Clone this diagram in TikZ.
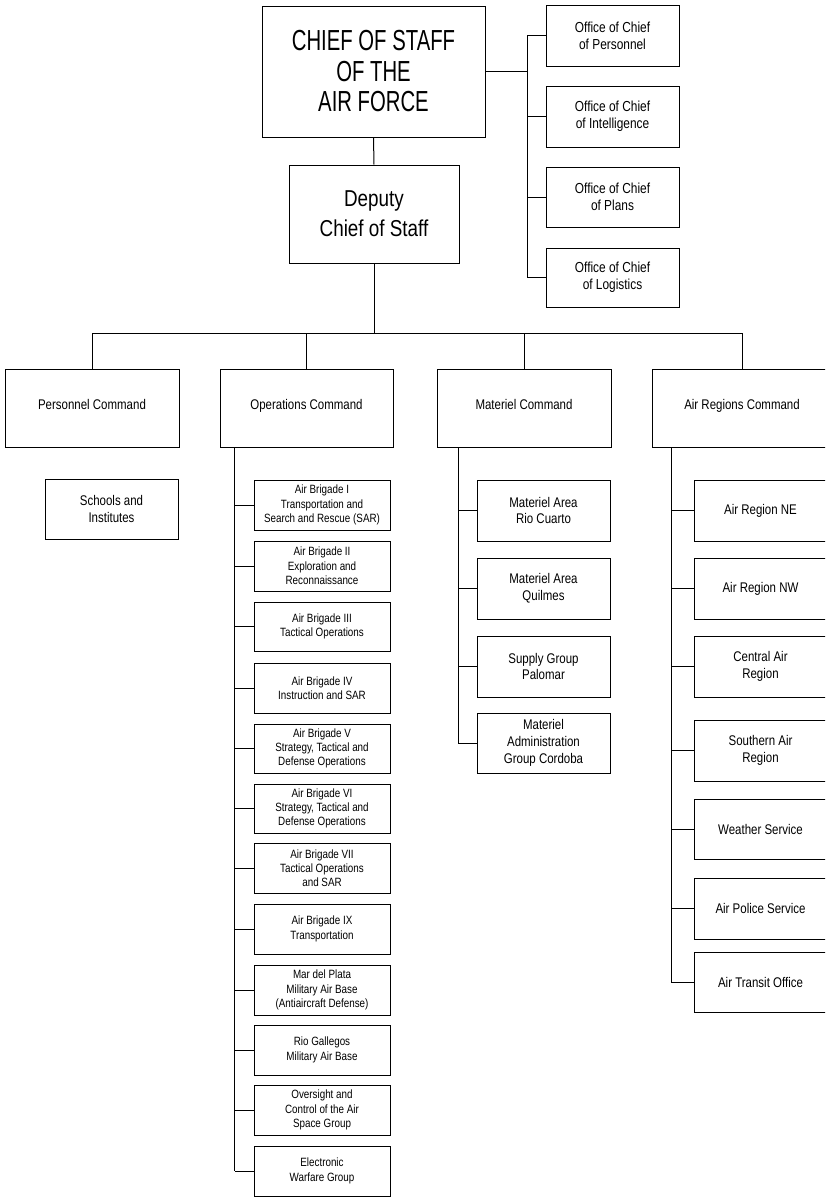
\documentclass[tikz,border=0pt]{standalone}
\usepackage{fontspec}
\setmainfont{Liberation Sans}[FakeStretch=0.82]
\newfontfamily\chieffont{Liberation Sans}[FakeStretch=0.7]
\newcommand\orgbox[7]{\node[#6, minimum width={(#4-#2)*1pt}, minimum height={(#5-#3)*1pt}] (#1) at ({(#2+#4)/2},{-(#3+#5)/2}) {#7};}
\tikzset{
  box/.style={draw, line width=1pt, inner sep=0pt, align=center, text=black},
  chiefbox/.style={box, font=\chieffont\fontsize{29}{30.5}\selectfont},
  depbox/.style={box, font=\fontsize{23}{30}\selectfont},
  offbox/.style={box, font=\fontsize{14.5}{17}\selectfont},
  cmdbox/.style={box, font=\fontsize{14}{17}\selectfont, text height=10pt, text depth=8pt},
  brigbox/.style={box, font=\fontsize{12}{14.3}\selectfont},
  subbox/.style={box, font=\fontsize{14}{16.7}\selectfont},
  conn/.style={line width=1pt}
}
\begin{document}
\begin{tikzpicture}[x=1pt, y=1pt, line width=1pt]
\useasboundingbox (0,0) rectangle (825,-1197);
\clip (0,0) rectangle (825,-1197);
% top
\orgbox{chief}{262}{6}{485}{137}{chiefbox}{CHIEF OF STAFF\\OF THE\\AIR FORCE}
\orgbox{deputy}{289}{165}{459}{263}{depbox}{Deputy\\Chief of Staff}
\orgbox{o1}{546}{5}{679}{66}{offbox}{Office of Chief\\of Personnel}
\orgbox{o2}{546}{86}{679}{147}{offbox}{Office of Chief\\of Intelligence}
\orgbox{o3}{546}{167}{679}{227}{offbox}{Office of Chief\\of Plans}
\orgbox{o4}{546}{248}{679}{307}{offbox}{Office of Chief\\of Logistics}
% commands
\orgbox{pers}{5}{369}{179}{447}{cmdbox}{Personnel Command}
\orgbox{ops}{220}{369}{393}{447}{cmdbox}{Operations Command}
\orgbox{mat}{437}{369}{611}{447}{cmdbox}{Materiel Command}
\orgbox{ar}{652}{369}{832}{447}{cmdbox}{Air Regions Command}
% personnel
\orgbox{schools}{45}{479}{178}{539}{subbox}{Schools and\\Institutes}
% operations
\orgbox{b1}{254}{480}{390}{530}{brigbox}{Air Brigade I\\Transportation and\\Search and Rescue (SAR)}
\orgbox{b2}{254}{541}{390}{591}{brigbox}{Air Brigade II\\Exploration and\\Reconnaissance}
\orgbox{b3}{254}{602}{390}{651}{brigbox}{Air Brigade III\\Tactical Operations}
\orgbox{b4}{254}{663}{390}{713}{brigbox}{Air Brigade IV\\Instruction and SAR}
\orgbox{b5}{254}{724}{390}{773}{brigbox}{Air Brigade V\\Strategy, Tactical and\\Defense Operations}
\orgbox{b6}{254}{784}{390}{833}{brigbox}{Air Brigade VI\\Strategy, Tactical and\\Defense Operations}
\orgbox{b7}{254}{843}{390}{893}{brigbox}{Air Brigade VII\\Tactical Operations\\and SAR}
\orgbox{b9}{254}{904}{390}{954}{brigbox}{Air Brigade IX\\Transportation}
\orgbox{mdp}{254}{965}{390}{1015}{brigbox}{Mar del Plata\\Military Air Base\\(Antiaircraft Defense)}
\orgbox{rg}{254}{1025}{390}{1075}{brigbox}{Rio Gallegos\\Military Air Base}
\orgbox{ov}{254}{1085}{390}{1135}{brigbox}{Oversight and\\Control of the Air\\Space Group}
\orgbox{ew}{254}{1146}{390}{1196}{brigbox}{Electronic\\Warfare Group}
% materiel
\orgbox{m1}{477}{480}{610}{541}{subbox}{Materiel Area\\Rio Cuarto}
\orgbox{m2}{477}{558}{610}{619}{subbox}{Materiel Area\\Quilmes}
\orgbox{m3}{477}{636}{610}{697}{subbox}{Supply Group\\Palomar}
\orgbox{m4}{477}{713}{610}{773}{subbox}{Materiel\\Administration\\Group Cordoba}
% air regions
\orgbox{r1}{694}{480}{827}{541}{subbox}{Air Region NE}
\orgbox{r2}{694}{558}{827}{619}{subbox}{Air Region NW}
\orgbox{r3}{694}{636}{827}{697}{subbox}{Central Air\\Region}
\orgbox{r4}{694}{720}{827}{781}{subbox}{Southern Air\\Region}
\orgbox{r5}{694}{799}{827}{859}{subbox}{Weather Service}
\orgbox{r6}{694}{878}{827}{939}{subbox}{Air Police Service}
\orgbox{r7}{694}{952}{827}{1012}{subbox}{Air Transit Office}
% connectors
\draw[conn] (chief.south) -- (deputy.north);
\coordinate (obus) at (527,0);
\draw[conn] (chief.east) -- (chief.east -| obus);
\draw[conn] (o1.west -| obus) -- (o4.west -| obus);
\foreach \n in {o1,o2,o3,o4} \draw[conn] (\n.west) -- (\n.west -| obus);
\coordinate (cbus) at (0,-333);
\draw[conn] (deputy.south) -- (deputy.south |- cbus);
\draw[conn] (pers.north |- cbus) -- (ar.north |- cbus);
\foreach \n in {pers,ops,mat,ar} \draw[conn] (\n.north) -- (\n.north |- cbus);
\coordinate (opbus) at (234.5,0);
\draw[conn] (ops.south -| opbus) -- (ew.west -| opbus);
\foreach \n in {b1,b2,b3,b4,b5,b6,b7,b9,mdp,rg,ov,ew} \draw[conn] (\n.west) -- (\n.west -| opbus);
\coordinate (mbus) at (458,0);
\draw[conn] (mat.south -| mbus) -- (m4.west -| mbus);
\foreach \n in {m1,m2,m3,m4} \draw[conn] (\n.west) -- (\n.west -| mbus);
\coordinate (rbus) at (671,0);
\draw[conn] (ar.south -| rbus) -- (r7.west -| rbus);
\foreach \n in {r1,r2,r3,r4,r5,r6,r7} \draw[conn] (\n.west) -- (\n.west -| rbus);
\end{tikzpicture}
\end{document}
